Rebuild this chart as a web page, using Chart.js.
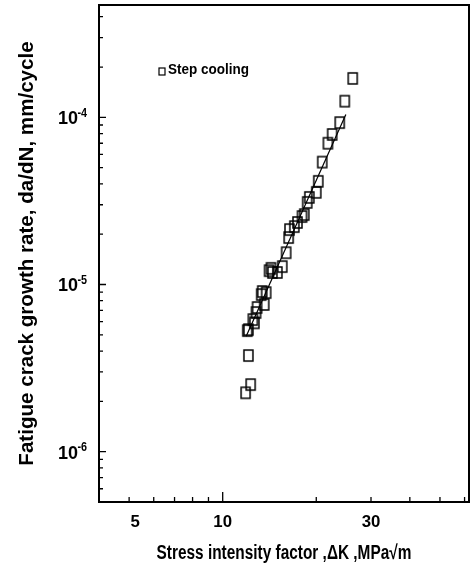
<!DOCTYPE html>
<html>
<head>
<meta charset="utf-8">
<script src="https://cdn.jsdelivr.net/npm/chart.js@4"></script>
<style>
  html, body { margin: 0; padding: 0; background: #fff; }
</style>
</head>
<body>
<canvas id="crack-chart" width="474" height="576"></canvas>
<script>
// DATA - step cooling da/dN vs dK
const stressIntensity = [
  26.2, 24.7, 23.8, 22.5, 21.8, 20.9, 20.3, 20.0, 19.0, 18.7,
  18.3, 18.0, 17.4, 17.0, 16.4, 16.3, 16.0, 15.55, 15.0, 14.3,
  14.45, 14.1, 13.8, 13.4, 13.3, 13.6, 12.9, 12.8, 12.65, 12.5,
  12.1, 12.0, 12.1, 12.3, 11.85
];
const growthRate = [
  1.71e-4, 1.25e-4, 9.3e-5, 7.9e-5, 7.0e-5, 5.4e-5, 4.14e-5, 3.56e-5, 3.32e-5, 3.1e-5,
  2.62e-5, 2.55e-5, 2.35e-5, 2.22e-5, 2.13e-5, 1.91e-5, 1.55e-5, 1.28e-5, 1.18e-5, 1.25e-5,
  1.18e-5, 1.21e-5, 8.95e-6, 9.08e-6, 8.7e-6, 7.6e-6, 7.28e-6, 6.8e-6, 5.9e-6, 6.17e-6,
  5.37e-6, 5.3e-6, 3.76e-6, 2.52e-6, 2.25e-6
];

// fitted Paris line, end points
const fitK = [11.9, 24.9];
const fitRate = [4.9e-6, 1.04e-4];

// axes
const xRange = [4, 62];
const yRange = [5e-7, 4.7e-4];
const xTickValues = [4, 5, 6, 7, 8, 9, 10, 20, 30, 40, 50, 60];
const xLabelValues = [5, 10, 30];
const yLabelValues = [1e-6, 1e-5, 1e-4];
const yLabelExp = ["-6", "-5", "-4"];

const ctx = document.getElementById("crack-chart");
const fontFamily = "'Liberation Sans', Arial, sans-serif";

//* minor ticks for every decade on the y axis
function getYTicks() {
  let ticks = [];
  for (let e = -7; e <= -3; e++) {
    for (let m = 1; m <= 9; m++) {
      const v = m * Math.pow(10, e);
      if (v >= yRange[0] && v <= yRange[1]) ticks.push(v);
    }
  }
  return ticks;
}

function findLabel(values, v) {
  return values.findIndex((x) => Math.abs(x - v) / x < 1e-6);
}

//* bold text, squeezed along its own direction (condensed look)
function drawText(c, text, x, y, size, rot, align, squeeze) {
  c.save();
  c.translate(x, y);
  c.rotate(rot);
  c.scale(squeeze, 1);
  c.font = "bold " + size + "px " + fontFamily;
  c.textAlign = align;
  c.textBaseline = "middle";
  c.fillText(text, 0, 0);
  c.restore();
}

//* open square marker, a bit taller than wide
function makeMarker() {
  const m = document.createElement("canvas");
  m.width = 13;
  m.height = 15;
  const mc = m.getContext("2d");
  mc.strokeStyle = "#000";
  mc.lineWidth = 1.5;
  mc.strokeRect(2, 2, 9, 11);
  return m;
}

//* box round the plot, inward ticks, labels, titles, legend
const framePlugin = {
  id: "frame",
  afterDraw(chart) {
    const c = chart.ctx;
    const area = chart.chartArea;
    const xs = chart.scales.x;
    const ys = chart.scales.y;
    c.save();
    c.strokeStyle = "#000";
    c.fillStyle = "#000";
    c.lineWidth = 2;
    c.strokeRect(area.left, area.top, area.right - area.left, area.bottom - area.top);

    c.lineWidth = 1.3;
    c.beginPath();
    xs.ticks.forEach((t) => {
      const px = xs.getPixelForValue(t.value);
      const len = t.value === 10 ? 10 : 5;
      c.moveTo(px, area.bottom);
      c.lineTo(px, area.bottom - len);
    });
    ys.ticks.forEach((t) => {
      const py = ys.getPixelForValue(t.value);
      const len = findLabel(yLabelValues, t.value) >= 0 ? 7 : 4;
      c.moveTo(area.left, py);
      c.lineTo(area.left + len, py);
    });
    c.stroke();

    // x tick labels
    xLabelValues.forEach((v) => {
      const px = xs.getPixelForValue(v) + (v === 5 ? 6 : 0);
      drawText(c, String(v), px, area.bottom + 21, 16, 0, "center", 1.05);
    });
    // y tick labels, 10 with raised exponent
    yLabelValues.forEach((v, i) => {
      const py = ys.getPixelForValue(v);
      drawText(c, yLabelExp[i], area.left - 12, py - 4, 12, 0, "right", 0.9);
      drawText(c, "10", area.left - 21, py + 2, 18, 0, "right", 1);
    });

    // axis titles
    drawText(c, "Stress intensity factor ,\u0394K ,MPa\u221Am", (area.left + area.right) / 2, 553, 20, 0, "center", 0.77);
    drawText(c, "Fatigue crack growth rate, da/dN, mm/cycle", 27, (area.top + area.bottom) / 2, 21, -Math.PI / 2, "center", 0.98);

    // legend
    const lx = area.left + 63;
    const ly = area.top + 66;
    c.lineWidth = 1.2;
    c.strokeRect(lx - 3, ly - 3, 6, 7);
    drawText(c, "Step cooling", lx + 6, ly - 1, 15, 0, "left", 0.9);
    c.restore();
  },
};

const points = stressIntensity.map((k, i) => ({ x: k, y: growthRate[i] }));
const fitLine = fitK.map((k, i) => ({ x: k, y: fitRate[i] }));

new Chart(ctx, {
  type: "scatter",
  data: {
    datasets: [
      {
        label: "Step cooling",
        data: points,
        pointStyle: makeMarker(),
      },
      {
        label: "fit",
        data: fitLine,
        showLine: true,
        pointRadius: 0,
        borderColor: "#000",
        borderWidth: 1.2,
      },
    ],
  },
  options: {
    responsive: false,
    animation: false,
    devicePixelRatio: 1,
    layout: { padding: { top: 5, right: 2, left: 0, bottom: 0 } },
    plugins: {
      legend: { display: false },
      tooltip: { enabled: false },
    },
    scales: {
      x: {
        type: "logarithmic",
        min: xRange[0],
        max: xRange[1],
        afterBuildTicks: (scale) => {
          scale.ticks = xTickValues.map((v) => ({ value: v }));
        },
        afterFit: (scale) => {
          scale.height = 74;
          scale.paddingLeft = 0;
          scale.paddingRight = 0;
        },
        grid: { display: false },
        border: { display: false },
        ticks: { display: false },
      },
      y: {
        type: "logarithmic",
        min: yRange[0],
        max: yRange[1],
        afterBuildTicks: (scale) => {
          scale.ticks = getYTicks().map((v) => ({ value: v }));
        },
        afterFit: (scale) => {
          scale.width = 99;
          scale.paddingTop = 0;
          scale.paddingBottom = 0;
        },
        grid: { display: false },
        border: { display: false },
        ticks: { display: false },
      },
    },
  },
  plugins: [framePlugin],
});
</script>
</body>
</html>
